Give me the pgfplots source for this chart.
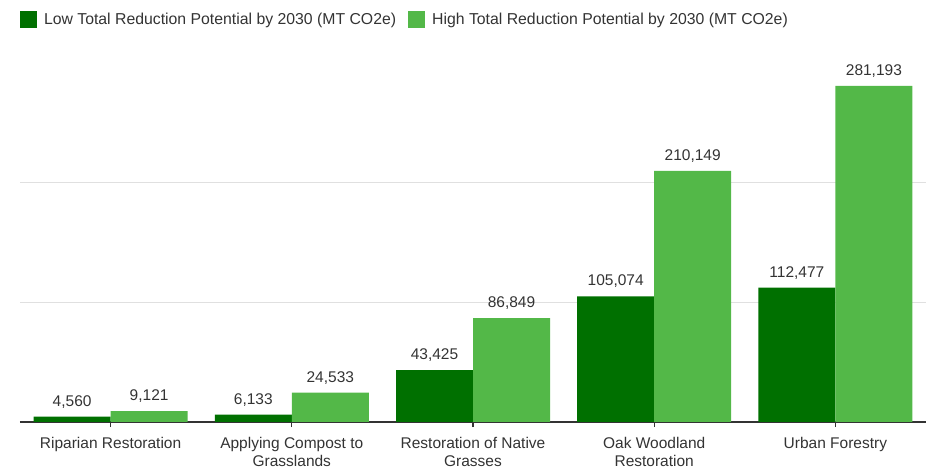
\documentclass[border=0pt]{standalone}
\usepackage{fontspec}
\setmainfont{Liberation Sans}
\usepackage{pgfplots}
\pgfplotsset{compat=1.18}
\definecolor{lowg}{RGB}{0,112,0}
\definecolor{highg}{RGB}{83,184,72}
\definecolor{txt}{RGB}{51,51,51}
\definecolor{gridc}{RGB}{224,224,224}
\newcommand{\lblfont}{\fontsize{15.5}{18}\selectfont}
\newcommand{\legfont}{\fontsize{15.8}{18}\selectfont}
\begin{document}
\begin{tikzpicture}
\begin{axis}[
  scale only axis, width=906pt, height=358.5pt,
  xmin=-0.5, xmax=4.5, ymin=0, ymax=300000,
  ybar=0pt, bar width=77pt,
  axis x line*=bottom, axis y line*=left,
  x axis line style={-, draw=txt, line width=1.5pt},
  y axis line style={draw=none},
  scaled y ticks=false,
  ytick={100000,200000}, yticklabel=\empty, ytick style={draw=none},
  ymajorgrids, major grid style={draw=gridc, line width=1pt},
  xtick={0,...,4},
  xticklabels={Riparian Restoration, Applying Compost to\\Grasslands, Restoration of Native\\Grasses, Oak Woodland\\Restoration, Urban Forestry},
  x tick label style={align=center, font=\lblfont, text=txt, yshift=-7pt},
  tick align=outside, major tick length=5pt,
  xtick style={draw=txt, line width=1.2pt},
  nodes near coords,
  every node near coord/.append style={font=\lblfont, text=txt, anchor=base, inner sep=0pt, yshift=10.5pt},
  /pgf/number format/.cd, fixed, precision=0, 1000 sep={,}, assume math mode=true,
  /pgfplots/.cd,
  legend columns=2,
  legend style={at={(0,1)}, anchor=west, yshift=43.5pt, draw=none, fill=none,
    inner sep=0pt, outer sep=0pt, font=\legfont, text=txt,
    /tikz/every odd column/.append style={column sep=5pt},
    /tikz/every even column/.append style={column sep=10pt}},
  legend cell align=left,
]
\addplot[fill=lowg, draw=none, legend image code/.code={\fill[lowg] (0pt,-8.5pt) rectangle (17pt,8.5pt);}]
  coordinates {(0,4560) (1,6133) (2,43425) (3,105074) (4,112477)};
\addplot[fill=highg, draw=none, legend image code/.code={\fill[highg] (0pt,-8.5pt) rectangle (17pt,8.5pt);}]
  coordinates {(0,9121) (1,24533) (2,86849) (3,210149) (4,281193)};
\legend{Low Total Reduction Potential by 2030 (MT CO2e), High Total Reduction Potential by 2030 (MT CO2e)}
\end{axis}
\pgfresetboundingbox
\useasboundingbox (-20pt,-49pt) rectangle (912pt,422pt);
\end{tikzpicture}
\end{document}
